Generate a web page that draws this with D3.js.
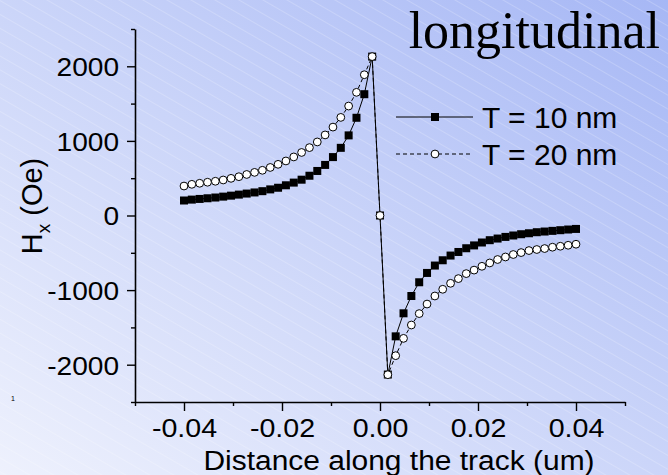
<!DOCTYPE html>
<html>
<head>
<meta charset="utf-8">
<script src="https://cdn.jsdelivr.net/npm/d3@7"></script>
<style>
  body { margin: 0; }
  svg { display: block; }
</style>
</head>
<body>
<svg id="chart"></svg>
<script>
// x positions (um) and Hx (Oe)
var xValues = [-0.04, -0.0384, -0.0368, -0.0352, -0.0336, -0.032, -0.0304, -0.0288, -0.0272, -0.0256,
  -0.024, -0.0224, -0.0208, -0.0192, -0.0176, -0.016, -0.0144, -0.0128, -0.0112, -0.0096,
  -0.008, -0.0064, -0.0048, -0.0032, -0.0016, 0,
  0.0016, 0.0032, 0.0048, 0.0064, 0.008, 0.0096, 0.0112, 0.0128, 0.0144, 0.016,
  0.0176, 0.0192, 0.0208, 0.0224, 0.024, 0.0256, 0.0272, 0.0288, 0.0304, 0.032,
  0.0336, 0.0352, 0.0368, 0.0384, 0.04]

var t10 = [201, 213, 222, 231, 241, 253, 266, 280, 294, 309, 326, 350, 372, 405, 441, 480, 533, 597, 678, 783,
  907, 1074, 1310, 1626, 2130, 0,
  -2132, -1620, -1311, -1079, -895, -770, -671, -600, -537, -489, -439, -401, -362, -331, -309,
  -287, -268, -251, -238, -224, -215, -206, -197, -188, -180]

var t20 = [395, 418, 432, 446, 459, 476, 498, 520, 550, 578, 606, 644, 686, 731, 785, 845, 910, 986, 1080, 1185,
  1315, 1467, 1651, 1887, 2130, 0,
  -2134, -1879, -1647, -1468, -1315, -1187, -1079, -989, -909, -846, -779, -732, -681, -636, -590,
  -556, -523, -497, -470, -456, -443, -425, -412, -399, -385]

var xTicks = [-0.04, -0.02, 0.00, 0.02, 0.04]
var xTickLabels = ["-0.04", "-0.02", "0.00", "0.02", "0.04"]
var yTicks = [-2000, -1000, 0, 1000, 2000]
var yTickLabels = ["-2000", "-1000", "0", "1000", "2000"]
var xMinor = [-0.05, -0.03, -0.01, 0.01, 0.03, 0.05]
var yMinor = [-2500, -1500, -500, 500, 1500, 2500]
var seriesNames = ["T = 10 nm", "T = 20 nm"]

var width = 668, height = 475
var svg = d3.select("#chart").attr("width", width).attr("height", height)

var defs = svg.append("defs")
var grad = defs.append("linearGradient")
  .attr("id", "bg")
  .attr("x1", 0).attr("y1", 1).attr("x2", 1).attr("y2", 0)
grad.append("stop").attr("offset", "0%").attr("stop-color", "#eef1fd")
grad.append("stop").attr("offset", "50%").attr("stop-color", "#cbd5f9")
grad.append("stop").attr("offset", "100%").attr("stop-color", "#a6b7f5")

var pat = defs.append("pattern")
  .attr("id", "stripes")
  .attr("patternUnits", "userSpaceOnUse")
  .attr("width", 12).attr("height", 12)
  .attr("patternTransform", "rotate(30)")
pat.append("line")
  .attr("x1", 0).attr("y1", 0).attr("x2", 12).attr("y2", 0)
  .attr("stroke", "white").attr("stroke-opacity", 0.5).attr("stroke-width", 0.8)

svg.append("rect").attr("width", width).attr("height", height).attr("fill", "url(#bg)")
svg.append("rect").attr("width", width).attr("height", height).attr("fill", "url(#stripes)")

var x = d3.scaleLinear().domain([-0.05, 0.05]).range([135, 625])
var y = d3.scaleLinear().domain([-2500, 2500]).range([402, 29])

var font = "'Liberation Sans', Arial, sans-serif"

// x axis
var gx = svg.append("g").attr("transform", "translate(0,402)")
gx.call(d3.axisBottom(x).tickValues(xTicks).tickSize(9).tickSizeOuter(0).tickFormat((d, i) => xTickLabels[i]))
gx.append("g").call(d3.axisBottom(x).tickValues(xMinor).tickSize(4).tickFormat(""))
  .select(".domain").remove()
gx.select(".domain").attr("stroke-width", 1.6)
gx.selectAll("line").attr("stroke-width", 1.4)
gx.selectAll("text")
  .attr("font-family", font).attr("font-size", 26).attr("fill", "#000")
  .attr("dy", 0).attr("y", 35)
  .style("transform-box", "fill-box").style("transform-origin", "center")
  .style("transform", "scaleX(1.1)")

// y axis
var gy = svg.append("g").attr("transform", "translate(135,0)")
gy.call(d3.axisLeft(y).tickValues(yTicks).tickSize(8).tickSizeOuter(0).tickFormat((d, i) => yTickLabels[i]))
gy.append("g").call(d3.axisLeft(y).tickValues(yMinor).tickSize(4).tickFormat(""))
  .select(".domain").remove()
gy.select(".domain").attr("stroke-width", 1.6)
gy.selectAll("line").attr("stroke-width", 1.4)
gy.selectAll("text")
  .attr("font-family", font).attr("font-size", 26).attr("fill", "#000")
  .attr("x", -16).attr("dy", "0.36em")
  .style("transform-box", "fill-box").style("transform-origin", "right center")
  .style("transform", "scaleX(1.08)")

// lines
var line = (vals) => d3.line().x((d, i) => x(xValues[i])).y(d => y(d))(vals)
svg.append("path").attr("d", line(t10)).attr("fill", "none").attr("stroke", "#000").attr("stroke-width", 1)
svg.append("path").attr("d", line(t20)).attr("fill", "none").attr("stroke", "#000").attr("stroke-width", 1)
  .attr("stroke-dasharray", "4,3")

// markers
svg.append("g").selectAll("rect").data(t10).join("rect")
  .attr("x", (d, i) => x(xValues[i]) - 4).attr("y", d => y(d) - 4)
  .attr("width", 8).attr("height", 8).attr("fill", "#000")
svg.append("g").selectAll("circle").data(t20).join("circle")
  .attr("cx", (d, i) => x(xValues[i])).attr("cy", d => y(d)).attr("r", 3.9)
  .attr("fill", "#fff").attr("stroke", "#000").attr("stroke-width", 1)

// legend
var lg = svg.append("g")
lg.append("line").attr("x1", 396).attr("x2", 473).attr("y1", 117).attr("y2", 117)
  .attr("stroke", "#000").attr("stroke-width", 1)
lg.append("rect").attr("x", 431).attr("y", 113).attr("width", 8).attr("height", 8).attr("fill", "#000")
lg.append("line").attr("x1", 396).attr("x2", 473).attr("y1", 154).attr("y2", 154)
  .attr("stroke", "#000").attr("stroke-width", 1).attr("stroke-dasharray", "4,3")
lg.append("circle").attr("cx", 435).attr("cy", 154).attr("r", 3.9)
  .attr("fill", "#fff").attr("stroke", "#000")
lg.selectAll("text").data(seriesNames).join("text")
  .attr("x", 482).attr("y", (d, i) => 128 + i * 36.7)
  .attr("font-family", font).attr("font-size", 30).text(d => d)

// titles
svg.append("text").attr("x", 660).attr("y", 48).attr("text-anchor", "end")
  .attr("font-family", "'Liberation Serif', 'Times New Roman', serif").attr("font-size", 52)
  .text("longitudinal")

svg.append("text").attr("x", 399).attr("y", 470).attr("text-anchor", "middle")
  .attr("font-family", font).attr("font-size", 28)
  .style("transform-box", "fill-box").style("transform-origin", "center")
  .style("transform", "scaleX(1.07)")
  .text("Distance along the track (um)")

var yl = svg.append("text").attr("transform", "translate(42,206) rotate(-90)")
  .attr("text-anchor", "middle").attr("font-family", font).attr("font-size", 29)
yl.append("tspan").text("H")
yl.append("tspan").attr("font-size", 19).attr("dy", 8).text("x")
yl.append("tspan").attr("dy", -8).text(" (Oe)")

svg.append("text").attr("x", 11).attr("y", 401).attr("font-family", font).attr("font-size", 7).text("1")
</script>
</body>
</html>
